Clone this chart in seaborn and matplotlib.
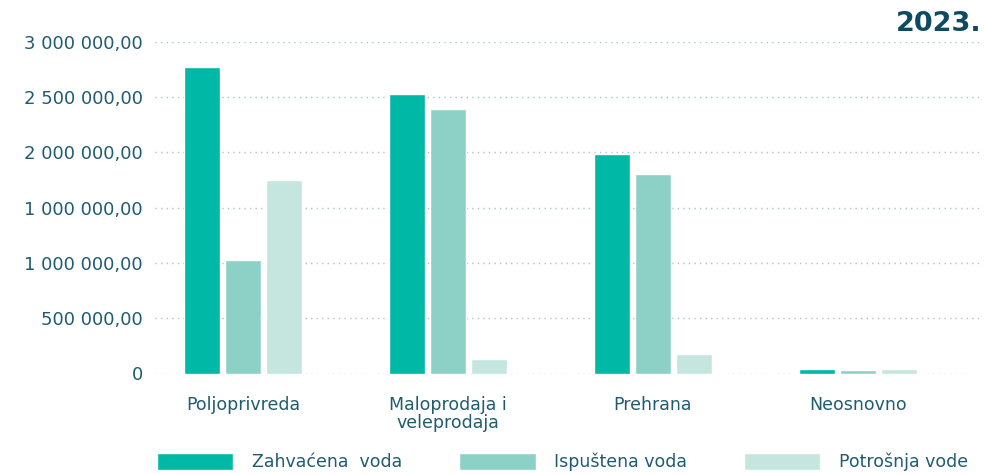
import matplotlib
matplotlib.use("Agg")
import matplotlib.pyplot as plt
import seaborn as sns
import pandas as pd

# Water use per sector, 2023
categories = ["Poljoprivreda", "Maloprodaja i\nveleprodaja", "Prehrana", "Neosnovno"]
series_names = ["Zahvaćena  voda", "Ispuštena voda", "Potrošnja vode"]
zahvacena = [2771000, 2527000, 1985000, 45000]
ispustena = [1026000, 2391000, 1804000, 36000]
potrosnja = [1750000, 131000, 176000, 45000]
y_ticks = [0, 500000, 1000000, 1500000, 2000000, 2500000, 3000000]
y_tick_labels = ["0", "500 000,00", "1 000 000,00", "1 000 000,00",
                 "2 000 000,00", "2 500 000,00", "3 000 000,00"]
year_label = "2023."

colors = ["#00B8A6", "#8DD1C6", "#C5E6DF"]
text_color = "#1F5C70"

df = pd.DataFrame({
    "kategorija": categories * 3,
    "serija": [series_names[0]] * 4 + [series_names[1]] * 4 + [series_names[2]] * 4,
    "vrijednost": zahvacena + ispustena + potrosnja,
})

sns.set_theme(style="white")
plt.rcParams["font.family"] = ["DejaVu Sans"]

fig = plt.figure(figsize=(9.85, 4.74), dpi=100)
ax = fig.add_axes([155 / 985, 1 - 373.5 / 474, (982 - 155) / 985, (373.5 - 41.7) / 474])

sns.barplot(data=df, x="kategorija", y="vrijednost", hue="serija",
            palette=colors, width=0.6, gap=0.12, saturation=1,
            ax=ax, legend=True)

ax.set_ylim(0, 3000000)
ax.set_xlim(-0.429, 3.605)
ax.set_yticks(y_ticks)
ax.set_yticklabels(y_tick_labels)
ax.set_xlabel("")
ax.set_ylabel("")
for s in ax.spines.values():
    s.set_visible(False)
ax.grid(axis="y", linestyle=(0, (1, 3)), color="#A9C4CF", linewidth=1)
ax.set_axisbelow(True)
ax.tick_params(axis="y", length=0, pad=8.6, labelsize=13, labelcolor=text_color)
ax.tick_params(axis="x", length=0, pad=16, labelsize=12.5, labelcolor=text_color)
for lbl in ax.get_xticklabels():
    lbl.set_linespacing(1.0)

handles, labels = ax.get_legend_handles_labels()
ax.legend(handles, labels, loc="center left", bbox_to_anchor=(157 / 985, 1 - 462 / 474),
          bbox_transform=fig.transFigure, ncol=3, frameon=False, borderpad=0,
          borderaxespad=0, handlelength=4.4, handleheight=1.2, handletextpad=1.05,
          columnspacing=3.3, fontsize=12.5, labelcolor=text_color)

fig.text(982 / 985, 1 - 11 / 474, year_label, ha="right", va="top",
         fontsize=19.5, fontweight="heavy", color="#0E4B62")

fig.savefig("out.png", dpi=100)
